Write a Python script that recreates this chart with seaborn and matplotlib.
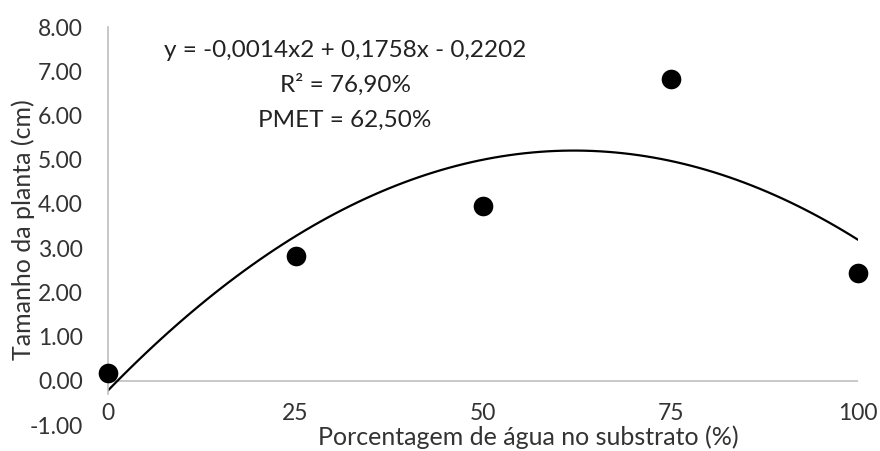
import matplotlib
matplotlib.use("Agg")
import matplotlib.pyplot as plt
import seaborn as sns
import pandas as pd

# data
agua = [0, 25, 50, 75, 100]
tamanho = [0.18, 2.82, 3.95, 6.82, 2.44]
x_ticks = [0, 25, 50, 75, 100]
y_ticks = [-1, 0, 1, 2, 3, 4, 5, 6, 7, 8]
eq_lines = ["y = -0,0014x2 + 0,1758x - 0,2202", "R² = 76,90%", "PMET = 62,50%"]

sns.set_theme(style="white")
plt.rcParams["font.family"] = ["Lato", "DejaVu Sans"]

df = pd.DataFrame({"agua": agua, "tamanho": tamanho})

fig = plt.figure(figsize=(8.8, 4.51), dpi=100)
ax = fig.add_axes([108 / 880, 1 - 425 / 451, 750 / 880, 398 / 451])

# quadratic trendline + points
sns.regplot(data=df, x="agua", y="tamanho", order=2, ci=None, ax=ax,
            scatter=False, line_kws={"color": "black", "lw": 1.6})
sns.scatterplot(data=df, x="agua", y="tamanho", ax=ax, color="black",
                s=200, edgecolor="black", linewidth=0, zorder=5, clip_on=False)

ax.set_xlim(0, 100)
ax.set_ylim(-1, 8)
ax.set_xticks(x_ticks)
ax.set_yticks(y_ticks)
ax.set_xticklabels([str(v) for v in x_ticks])
ax.set_yticklabels([f"{v:.2f}" for v in y_ticks])
ax.tick_params(axis="x", length=0, pad=-16, labelsize=16.5, colors="#333333")
ax.tick_params(axis="y", length=0, pad=18, labelsize=16.5, colors="#333333")

for side in ["top", "right", "bottom"]:
    ax.spines[side].set_visible(False)
ax.spines["left"].set_color("#bfbfbf")
ax.spines["left"].set_linewidth(1.2)
ax.spines["left"].set_bounds(-0.3, 8)
ax.axhline(0, color="#bfbfbf", lw=1.2, zorder=1)

ax.set_xlabel("Porcentagem de água no substrato (%)", fontsize=18, color="#333333")
ax.set_ylabel("Tamanho da planta (cm)", fontsize=18, color="#333333")
ax.xaxis.set_label_coords(0.56, 0.0)
ax.yaxis.set_label_coords(-0.097, 0.49)

for i, line in enumerate(eq_lines):
    ax.text(0.316, 0.942 - i * 0.088, line, transform=ax.transAxes,
            ha="center", va="center", fontsize=17.5, color="#222222")

fig.savefig("out.png", dpi=100)
plt.close(fig)
